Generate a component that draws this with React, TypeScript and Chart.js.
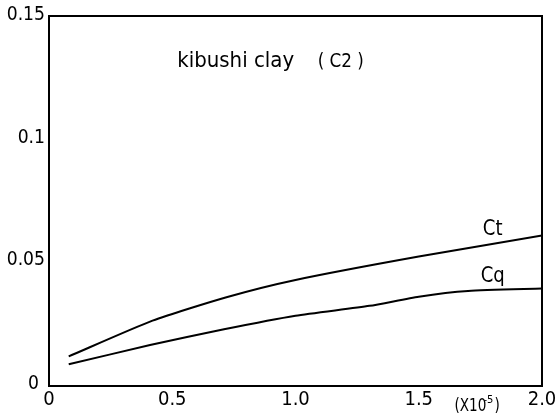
import React, { useEffect, useRef } from "react";
import { Chart, registerables } from "chart.js";

Chart.register(...registerables);

// Shear-rate axis (x 10^-5) and the two coefficient curves
const ctX = [0.08, 0.42, 0.72, 1.0, 1.5, 2.0];
const ctY = [0.012, 0.0265, 0.036, 0.043, 0.0525, 0.061];

const cqX = [0.08, 0.41, 0.71, 1.0, 1.3, 1.5, 1.7, 2.0];
const cqY = [0.0088, 0.0166, 0.023, 0.0285, 0.0325, 0.0362, 0.0385, 0.0395];

const xTicks = [0, 0.5, 1.0, 1.5, 2.0];
const xTickLabels = ["0", "0.5", "1.0", "1.5", "2.0"];
const yTicks = [0, 0.05, 0.1, 0.15];
const yTickLabels = ["0", "0.05", "0.1", "0.15"];

const titleMain = "kibushi clay";
const titleTag = "( C2 )";

const FONT = "'DejaVu Sans', sans-serif";

// text drawn with a narrower horizontal scale, like the plotter lettering
function narrowText(ctx: any, text: string, x: number, y: number, size: number, sx: number, align: string, baseline: string) {
  ctx.save();
  ctx.font = `${size}px ${FONT}`;
  ctx.textAlign = align;
  ctx.textBaseline = baseline;
  ctx.translate(x, y);
  ctx.scale(sx, 1);
  ctx.fillText(text, 0, 0);
  ctx.restore();
}

const framePlugin = {
  id: "frameAndLabels",
  afterDraw(chart: any) {
    const { ctx, chartArea, scales } = chart;
    const { left, right, top, bottom } = chartArea;
    ctx.save();
    ctx.strokeStyle = "#000";
    ctx.lineWidth = 2;
    ctx.strokeRect(left, top, right - left, bottom - top);
    ctx.fillStyle = "#000";

    // y tick labels
    const yShift = [-2, -3, -2, -1];
    yTicks.forEach((v, i) => {
      const y = scales.y.getPixelForValue(v);
      const x = i === 0 ? left - 10 : left - 4;
      narrowText(ctx, yTickLabels[i], x, y + yShift[i], 20, 0.86, "right", "middle");
    });
    // x tick labels
    xTicks.forEach((v, i) => {
      const x = scales.x.getPixelForValue(v);
      narrowText(ctx, xTickLabels[i], x, bottom + 14, 20, 0.9, "center", "middle");
    });

    // unit note (x 10^-5)
    const ux = scales.x.getPixelForValue(1.645);
    narrowText(ctx, "(X10", ux, bottom + 21, 17, 0.8, "left", "middle");
    narrowText(ctx, "-5", ux + 29, bottom + 14, 11, 0.9, "left", "middle");
    narrowText(ctx, ")", ux + 40, bottom + 21, 17, 0.8, "left", "middle");

    // title
    const ty = scales.y.getPixelForValue(0.1315);
    narrowText(ctx, titleMain, scales.x.getPixelForValue(0.52), ty, 22, 0.9, "left", "middle");
    narrowText(ctx, titleTag, scales.x.getPixelForValue(1.09), ty, 20, 0.84, "left", "middle");

    // curve labels
    narrowText(ctx, "Ct", scales.x.getPixelForValue(1.8), scales.y.getPixelForValue(0.0635), 21, 0.86, "center", "middle");
    narrowText(ctx, "Cq", scales.x.getPixelForValue(1.8), scales.y.getPixelForValue(0.0442), 21, 0.86, "center", "middle");
    ctx.restore();
  },
};

export default function App() {
  const ref = useRef<HTMLCanvasElement | null>(null);

  useEffect(() => {
    if (!ref.current) return;
    const chart = new Chart(ref.current, {
      type: "scatter",
      data: {
        datasets: [
          {
            label: "Ct",
            data: ctX.map((x, i) => ({ x, y: ctY[i] })),
            showLine: true,
            borderColor: "#000",
            borderWidth: 2,
            pointRadius: 0,
            tension: 0.2,
          },
          {
            label: "Cq",
            data: cqX.map((x, i) => ({ x, y: cqY[i] })),
            showLine: true,
            borderColor: "#000",
            borderWidth: 2,
            pointRadius: 0,
            tension: 0.2,
          },
        ],
      },
      options: {
        animation: false,
        responsive: false,
        layout: { padding: { left: 49, right: 15, top: 16, bottom: 33 } },
        plugins: {
          legend: { display: false },
          tooltip: { enabled: false },
        },
        scales: {
          x: {
            type: "linear",
            min: 0,
            max: 2,
            grid: { display: false, drawTicks: false },
            border: { display: false },
            ticks: { display: false },
          },
          y: {
            type: "linear",
            min: 0,
            max: 0.15,
            grid: { display: false, drawTicks: false },
            border: { display: false },
            ticks: { display: false },
          },
        },
      },
      plugins: [framePlugin],
    });
    return () => chart.destroy();
  }, []);

  return (
    <div style={{ position: "fixed", left: 0, top: 0, width: 557, height: 419, background: "#fff" }}>
      <canvas ref={ref} width={557} height={419} />
    </div>
  );
}
